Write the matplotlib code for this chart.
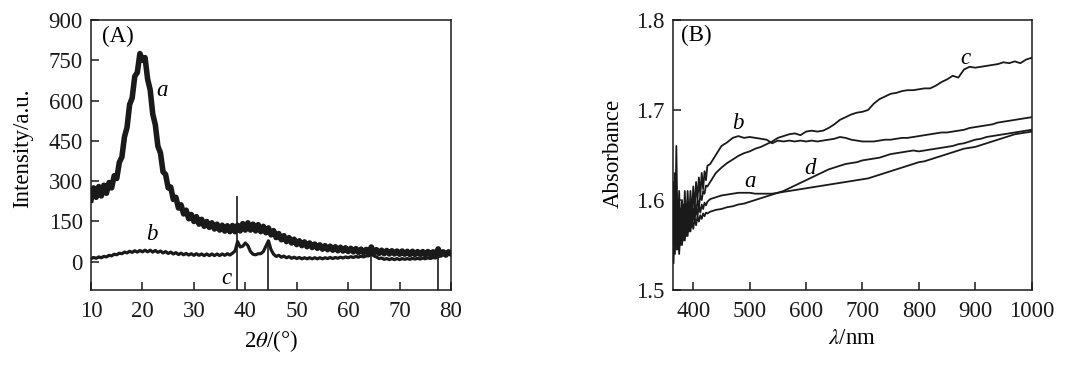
import numpy as np
import matplotlib
matplotlib.use('Agg')
import matplotlib.pyplot as plt

plt.rcParams['font.family'] = ['Liberation Serif', 'DejaVu Serif']
plt.rcParams['mathtext.fontset'] = 'stix'
plt.rcParams['font.size'] = 16.5

# ---------- (A) XRD ----------
two_theta = np.arange(10, 80.01, 0.5)
xrd_a = [230, 275, 240, 280, 245, 285, 255, 295, 275, 320, 310, 370, 390, 465, 500, 585,
         610, 690, 705, 775, 750, 760, 680, 640, 550, 510, 430, 405, 335, 325, 275, 278,
         232, 240, 200, 212, 178, 192, 160, 176, 150, 168, 140, 158, 132, 150, 128, 145,
         122, 140, 118, 136, 114, 134, 112, 135, 112, 136, 115, 142, 118, 145, 118, 140,
         115, 138, 112, 132, 108, 126, 100, 116, 90, 105, 82, 97, 75, 90, 70, 84,
         64, 78, 60, 74, 56, 70, 53, 66, 50, 63, 47, 60, 45, 58, 43, 56,
         41, 54, 40, 52, 38, 50, 37, 49, 35, 47, 34, 46, 33, 55, 33, 45,
         31, 43, 30, 42, 29, 41, 29, 40, 28, 40, 28, 39, 27, 39, 27, 38,
         27, 38, 26, 38, 26, 37, 26, 48, 26, 37, 25, 37, 30]
xrd_b = [12, 16, 13, 18, 15, 20, 18, 24, 22, 28, 26, 32, 30, 36, 33, 39,
         35, 41, 36, 42, 37, 43, 37, 43, 36, 42, 35, 40, 33, 38, 31, 36,
         29, 34, 27, 32, 26, 31, 25, 30, 24, 30, 24, 29, 23, 29, 23, 29,
         23, 29, 23, 29, 24, 30, 25, 32, 40, 75, 55, 58, 70, 60, 38, 28,
         26, 30, 30, 38, 58, 78, 45, 28, 20, 24, 17, 21, 15, 19, 13, 17,
         12, 16, 11, 15, 11, 15, 11, 15, 11, 15, 11, 15, 12, 16, 12, 16,
         13, 17, 14, 18, 15, 19, 16, 20, 17, 21, 18, 22, 22, 30, 22, 18,
         12, 14, 9, 12, 8, 12, 8, 12, 8, 12, 9, 12, 9, 13, 10, 13,
         10, 14, 11, 15, 12, 16, 14, 20, 22, 26, 24, 28, 26]
stick_pos = [38.3, 44.4, 64.5, 77.5]
stick_top = [245, 75, 45, 45]

# ---------- (B) UV-vis ----------
wl = np.concatenate([np.arange(365, 425.1, 2.5), np.arange(430, 1000.1, 10)])
abs_a = [1.60, 1.55, 1.59, 1.545, 1.585, 1.55, 1.58, 1.555, 1.585, 1.56, 1.585, 1.565, 1.59,
         1.57, 1.59, 1.578, 1.592, 1.582, 1.594, 1.586, 1.595, 1.59, 1.597, 1.594, 1.598,
         1.601, 1.603, 1.605, 1.606, 1.607, 1.608, 1.608, 1.608, 1.607, 1.607, 1.607, 1.607,
         1.608, 1.609, 1.610, 1.611, 1.612, 1.613, 1.614, 1.615, 1.616, 1.617, 1.618, 1.619,
         1.620, 1.621, 1.622, 1.623, 1.624, 1.626, 1.628, 1.630, 1.632, 1.634, 1.636, 1.638,
         1.640, 1.642, 1.643, 1.645, 1.647, 1.649, 1.651, 1.653, 1.655, 1.657, 1.658, 1.659,
         1.661, 1.663, 1.665, 1.667, 1.669, 1.671, 1.673, 1.674, 1.675, 1.676]
abs_b = [1.62, 1.54, 1.66, 1.55, 1.61, 1.56, 1.60, 1.56, 1.61, 1.57, 1.61, 1.575, 1.61,
         1.58, 1.615, 1.59, 1.62, 1.60, 1.625, 1.605, 1.63, 1.612, 1.632, 1.622, 1.638,
         1.640, 1.650, 1.660, 1.664, 1.669, 1.671, 1.669, 1.670, 1.669, 1.668, 1.667, 1.663,
         1.666, 1.665, 1.666, 1.665, 1.666, 1.665, 1.666, 1.665, 1.666, 1.667, 1.668, 1.670,
         1.669, 1.667, 1.666, 1.665, 1.665, 1.665, 1.666, 1.667, 1.667, 1.668, 1.669, 1.669,
         1.670, 1.671, 1.672, 1.673, 1.674, 1.675, 1.675, 1.676, 1.677, 1.678, 1.680, 1.681,
         1.682, 1.683, 1.684, 1.686, 1.687, 1.688, 1.689, 1.690, 1.691, 1.692]
abs_c = [1.55, 1.63, 1.56, 1.60, 1.545, 1.59, 1.555, 1.595, 1.56, 1.59, 1.565, 1.59, 1.57,
         1.59, 1.578, 1.595, 1.585, 1.60, 1.593, 1.605, 1.60, 1.61, 1.607, 1.616, 1.615,
         1.620, 1.630, 1.636, 1.641, 1.645, 1.649, 1.652, 1.654, 1.657, 1.659, 1.662, 1.665,
         1.669, 1.671, 1.673, 1.674, 1.672, 1.676, 1.677, 1.676, 1.677, 1.680, 1.684, 1.689,
         1.692, 1.695, 1.697, 1.698, 1.700, 1.707, 1.712, 1.715, 1.718, 1.719, 1.721, 1.722,
         1.722, 1.723, 1.724, 1.724, 1.727, 1.731, 1.734, 1.738, 1.736, 1.745, 1.748, 1.747,
         1.748, 1.749, 1.750, 1.751, 1.753, 1.752, 1.754, 1.752, 1.756, 1.758]
abs_d = [1.53, 1.58, 1.545, 1.57, 1.54, 1.575, 1.55, 1.575, 1.555, 1.575, 1.56, 1.578, 1.565,
         1.578, 1.568, 1.58, 1.572, 1.582, 1.576, 1.583, 1.579, 1.585, 1.582, 1.586, 1.585,
         1.587, 1.589, 1.590, 1.592, 1.593, 1.595, 1.596, 1.598, 1.600, 1.602, 1.604, 1.606,
         1.608, 1.610, 1.613, 1.616, 1.619, 1.622, 1.625, 1.628, 1.631, 1.634, 1.636, 1.638,
         1.640, 1.641, 1.642, 1.644, 1.645, 1.646, 1.647, 1.649, 1.651, 1.652, 1.653, 1.654,
         1.655, 1.654, 1.655, 1.656, 1.657, 1.658, 1.659, 1.660, 1.662, 1.663, 1.665, 1.667,
         1.668, 1.670, 1.671, 1.672, 1.673, 1.674, 1.675, 1.676, 1.677, 1.678]

ink = '#1a1a1a'
fig = plt.figure(figsize=(10.66, 3.66), dpi=100)

# panel A
ax1 = fig.add_axes([0.0854, 0.2077, 0.3377, 0.7377])
ax1.plot(two_theta, xrd_a, color=ink, lw=4.0, solid_joinstyle='round')
ax1.plot(two_theta, xrd_b, color=ink, lw=2.3)
ax1.vlines(stick_pos, -105, stick_top, color=ink, lw=1.2)
ax1.set_xlim(10, 80)
ax1.set_ylim(-105, 900)
ax1.set_xticks(range(10, 81, 10))
ax1.set_yticks(range(0, 901, 150))
ax1.set_xlabel(r'2$\it{\theta}$/(°)', labelpad=4)
ax1.set_ylabel('Intensity/a.u.')
ax1.yaxis.set_label_coords(-0.16, 0.526)
ax1.text(12.2, 840, '(A)', va='center', ha='left')
ax1.text(23.9, 637, 'a', style='italic', ha='center', va='center')
ax1.text(21.8, 100, 'b', style='italic', ha='center', va='center')
ax1.text(36.4, -62, 'c', style='italic', ha='center', va='center')

# panel B
ax2 = fig.add_axes([0.6313, 0.2077, 0.3365, 0.7377])
for yy in (abs_a, abs_b, abs_c, abs_d):
    ax2.plot(wl, yy, color=ink, lw=1.3)
ax2.set_xlim(364, 1000)
ax2.set_ylim(1.5, 1.8)
ax2.set_xticks(range(400, 1001, 100))
ax2.set_yticks([1.5, 1.6, 1.7, 1.8])
ax2.set_xlabel(r'$\it{\lambda}$/nm', labelpad=4)
ax2.set_ylabel('Absorbance')
ax2.yaxis.set_label_coords(-0.138, 0.504)
ax2.text(379, 1.783, '(B)', va='center', ha='left')
ax2.text(479, 1.685, 'b', style='italic', ha='center', va='center')
ax2.text(500, 1.620, 'a', style='italic', ha='center', va='center')
ax2.text(607, 1.635, 'd', style='italic', ha='center', va='center')
ax2.text(882, 1.757, 'c', style='italic', ha='center', va='center')

for ax in (ax1, ax2):
    for s in ax.spines.values():
        s.set_linewidth(1.1)
        s.set_color(ink)
    ax.tick_params(direction='in', length=6, width=1.1, colors=ink, pad=6)
    ax.tick_params(axis='x', pad=8)

fig.savefig('out.png', dpi=100)
